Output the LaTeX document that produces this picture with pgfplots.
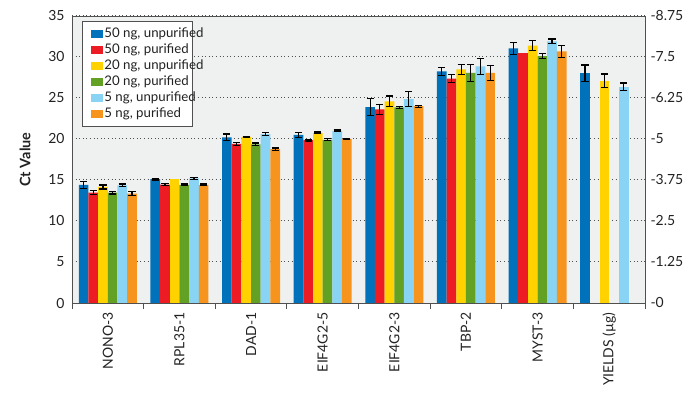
\documentclass[border=0pt]{standalone}
\usepackage{fontspec}
\setmainfont{Lato}
\usepackage{pgfplots}
\usepackage{pgfplotstable}
\pgfplotsset{compat=1.18}

\definecolor{cBlue}{HTML}{0072BC}
\definecolor{cRed}{HTML}{ED1C24}
\definecolor{cYellow}{HTML}{FFD200}
\definecolor{cGreen}{HTML}{62A123}
\definecolor{cLight}{HTML}{89D3F4}
\definecolor{cOrange}{HTML}{F7941E}
\definecolor{plotbg}{HTML}{EFF0F0}
\definecolor{frame}{HTML}{505050}
\definecolor{txt}{HTML}{222222}

% Ct values: x = gene index, y = mean Ct, e = error
\pgfplotstableread{
x y e
0 14.40 0.40
1 15.10 0.10
2 20.20 0.40
3 20.50 0.30
4 23.90 1.00
5 28.25 0.50
6 31.05 0.75
}\ctFiftyUnp
\pgfplotstableread{
x y e
0 13.45 0.25
1 14.45 0.10
2 19.40 0.15
3 19.85 0.10
4 23.60 0.60
5 27.35 0.50
}\ctFiftyPur
\pgfplotstableread{
x y
6 30.50
}\ctFiftyPurNoErr
\pgfplotstableread{
x y e
0 14.15 0.25
2 20.25 0.10
3 20.75 0.10
4 24.60 0.65
5 28.50 0.60
6 31.40 0.60
}\ctTwentyUnp
\pgfplotstableread{
x y
1 15.10
}\ctTwentyUnpNoErr
\pgfplotstableread{
x y e
0 13.45 0.15
1 14.40 0.10
2 19.35 0.15
3 19.90 0.12
4 23.85 0.15
5 28.05 1.00
6 30.10 0.30
}\ctTwentyPur
\pgfplotstableread{
x y e
0 14.35 0.15
1 15.20 0.10
2 20.60 0.15
3 21.00 0.10
4 24.85 0.90
5 28.85 1.00
6 31.90 0.30
}\ctFiveUnp
\pgfplotstableread{
x y e
0 13.35 0.20
1 14.40 0.10
2 18.75 0.15
3 20.00 0.10
4 24.00 0.12
5 28.05 0.95
6 30.70 0.75
}\ctFivePur

% yields in micrograms (right axis)
\pgfplotstableread{
x y e
7 7.01 0.245
}\yFiftyUnp
\pgfplotstableread{
x y e
7 6.78 0.20
}\yTwentyUnp
\pgfplotstableread{
x y e
7 6.60 0.11
}\yFiveUnp

% slot offsets of the six bars inside a group (axis units)
\def\sA{-0.3375}\def\sB{-0.2025}\def\sC{-0.0675}
\def\sD{0.0675}\def\sE{0.2025}\def\sF{0.3375}

% legend text set in a fixed-width box
\newcommand{\legtext}[1]{\makebox[78bp][l]{#1}}

\pgfplotsset{
  barbase/.style={ybar, bar width=0.135, bar shift=0, draw=none, fill=#1,
    legend image code/.code={\fill[##1] (0bp,-4bp) rectangle (12bp,4bp);}},
  ctbar/.style={barbase={#1},
    error bars/.cd, y dir=both, y explicit,
    error bar style={line width=1.2bp, black},
    error mark options={rotate=90, mark size=3.6bp, line width=1.2bp, black}},
  common/.style={
    width=573bp, height=287bp, scale only axis,
    xmin=-0.5, xmax=7.5,
    /pgf/number format/assume math mode=true,
    tick label style={font=\fontsize{14}{16}\selectfont, text=txt},
  },
}

\begin{document}
\begin{tikzpicture}
\begin{axis}[
  common,
  name=main,
  ymin=0, ymax=35,
  ytick={0,5,...,35},
  major tick length=0pt,
  ymajorgrids,
  grid style={frame, line width=1bp, dash pattern=on 1bp off 2.6bp},
  axis background/.style={fill=plotbg},
  axis line style={frame, line width=0.8bp},
  xtick={0,...,7},
  xticklabels={NONO-3,RPL35-1,DAD-1,EIF4G2-5,EIF4G2-3,TBP-2,MYST-3,YIELDS (µg)},
  xticklabel style={rotate=90, anchor=east},
  xticklabel shift=6bp,
  yticklabel shift=4bp,
  minor xtick={-0.5,0.5,...,7.5},
  minor tick length=6bp,
  xtick align=outside,
  xtick pos=bottom,
  ytick pos=left,
  minor x tick style={frame, line width=0.8bp},
  ylabel={\bfseries Ct Value},
  every axis y label/.style={at={([xshift=-47bp]axis description cs:0,0.5)},
    rotate=90, anchor=center, font=\fontsize{14.5}{16}\selectfont, text=txt},
  legend style={at={(0.0175,0.983)}, anchor=north west, draw=frame, line width=0.8bp,
    fill=white, font=\fontsize{13.3}{15}\selectfont, text=txt, row sep=0bp,
    inner xsep=9bp, inner ysep=4.5bp,
    nodes={inner ysep=1.6bp, inner xsep=1bp, text height=10bp, text depth=2.8bp}},
  legend cell align=left,
]
\addplot[ctbar=cBlue]   table[x expr=\thisrow{x}+\sA, y=y, y error=e] {\ctFiftyUnp};
\addlegendentry{\legtext{50 ng, unpurified}}
\addplot[ctbar=cRed]    table[x expr=\thisrow{x}+\sB, y=y, y error=e] {\ctFiftyPur};
\addlegendentry{\legtext{50 ng, purified}}
\addplot[ctbar=cYellow] table[x expr=\thisrow{x}+\sC, y=y, y error=e] {\ctTwentyUnp};
\addlegendentry{\legtext{20 ng, unpurified}}
\addplot[ctbar=cGreen]  table[x expr=\thisrow{x}+\sD, y=y, y error=e] {\ctTwentyPur};
\addlegendentry{\legtext{20 ng, purified}}
\addplot[ctbar=cLight]  table[x expr=\thisrow{x}+\sE, y=y, y error=e] {\ctFiveUnp};
\addlegendentry{\legtext{5 ng, unpurified}}
\addplot[ctbar=cOrange] table[x expr=\thisrow{x}+\sF, y=y, y error=e] {\ctFivePur};
\addlegendentry{\legtext{5 ng, purified}}
% bars without a measured spread
\addplot[barbase=cRed, forget plot]    table[x expr=\thisrow{x}+\sB, y=y] {\ctFiftyPurNoErr};
\addplot[barbase=cYellow, forget plot] table[x expr=\thisrow{x}+\sC, y=y] {\ctTwentyUnpNoErr};
\end{axis}

\begin{axis}[
  common,
  ymin=0, ymax=8.75,
  axis y line*=right,
  axis x line=none,
  axis line style={frame, line width=0.8bp},
  ytick={0,1.25,2.5,3.75,5,6.25,7.5,8.75},
  yticklabels={-0,-1.25,-2.5,-3.75,-5,-6.25,-7.5,-8.75},
  yticklabel shift=2bp,
  major tick length=0pt,
]
\addplot[ctbar=cBlue]   table[x expr=\thisrow{x}+\sA, y=y, y error=e] {\yFiftyUnp};
\addplot[ctbar=cYellow] table[x expr=\thisrow{x}+\sC, y=y, y error=e] {\yTwentyUnp};
\addplot[ctbar=cLight]  table[x expr=\thisrow{x}+\sE, y=y, y error=e] {\yFiveUnp};
\end{axis}

\pgfresetboundingbox
\path[use as bounding box] ([shift={(-72bp,-91bp)}]main.south west)
  rectangle ([shift={(46bp,16bp)}]main.north east);
\end{tikzpicture}
\end{document}
